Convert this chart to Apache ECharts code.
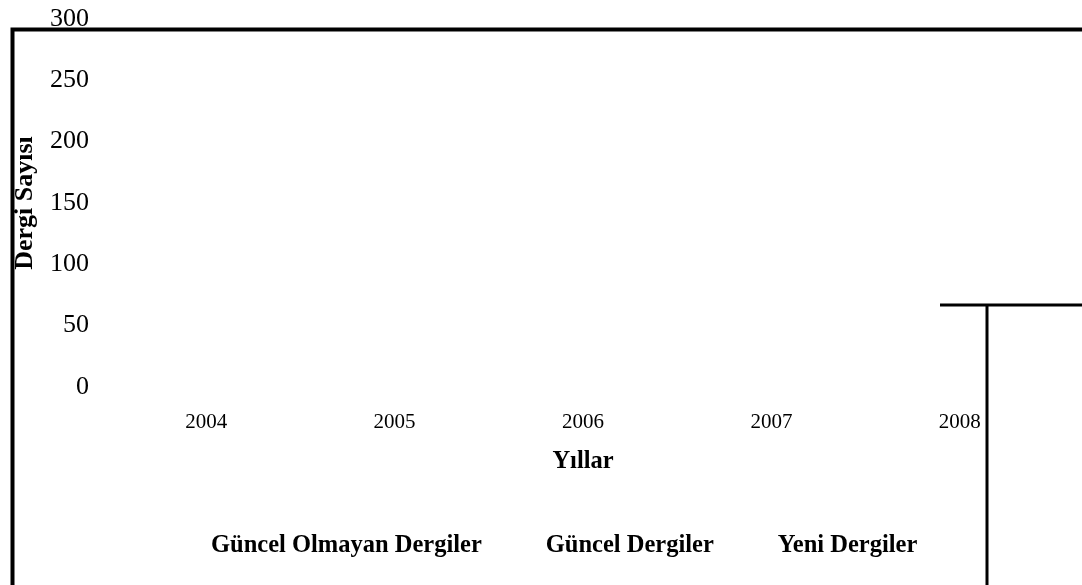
<!DOCTYPE html>
<html>
<head>
<meta charset="utf-8">
<title>Dergi Sayısı</title>
<script src="https://cdn.jsdelivr.net/npm/echarts@6/dist/echarts.min.js"></script>
<style>
  html, body { margin: 0; padding: 0; background: #fff; }
  #chart { width: 1082px; height: 585px; }
</style>
</head>
<body>
<div id="chart"></div>
<script>
// yıllar ve seriler (grafikte hiçbir değer görünmüyor)
const years = ['2004', '2005', '2006', '2007', '2008']
const seriesNames = ['Güncel Olmayan Dergiler', 'Güncel Dergiler', 'Yeni Dergiler']
const guncelOlmayan = [null, null, null, null, null]
const guncel = [null, null, null, null, null]
const yeni = [null, null, null, null, null]
const yTicks = [0, 50, 100, 150, 200, 250, 300]

const font = '"Liberation Serif", "Times New Roman", serif'
const chart = echarts.init(document.getElementById('chart'))

chart.setOption({
  animation: false,
  textStyle: { fontFamily: font, color: '#000' },
  grid: { left: 112, right: 28, top: 19, bottom: 198, containLabel: false },
  legend: {
    data: seriesNames,
    left: 201,
    top: 528,
    icon: 'none',
    itemWidth: 0,
    itemGap: 59,
    textStyle: { fontFamily: font, fontSize: 24.5, fontWeight: 'bold', color: '#000' }
  },
  xAxis: {
    type: 'category',
    data: years,
    name: 'Yıllar',
    nameLocation: 'middle',
    nameGap: 62,
    nameTextStyle: { fontFamily: font, fontSize: 24.5, fontWeight: 'bold', color: '#000' },
    axisLine: { show: false },
    axisTick: { show: false },
    axisLabel: { margin: 25, fontFamily: font, fontSize: 21, color: '#000' }
  },
  yAxis: {
    type: 'value',
    min: yTicks[0],
    max: yTicks[yTicks.length - 1],
    interval: 50,
    name: 'Dergi Sayısı',
    nameLocation: 'middle',
    nameGap: 74,
    nameTextStyle: { fontFamily: font, fontSize: 26, fontWeight: 'bold', color: '#000' },
    axisLine: { show: false },
    axisTick: { show: false },
    splitLine: { show: false },
    axisLabel: { margin: 23, fontFamily: font, fontSize: 26, color: '#000' }
  },
  series: [
    { name: seriesNames[0], type: 'bar', data: guncelOlmayan },
    { name: seriesNames[1], type: 'bar', data: guncel },
    { name: seriesNames[2], type: 'bar', data: yeni }
  ],
  // çerçeve çizgileri
  graphic: [
    {
      type: 'polyline',
      shape: { points: [[12.5, 585], [12.5, 29.5], [1082, 29.5]] },
      style: { stroke: '#000', lineWidth: 4, fill: null },
      z: 100
    },
    {
      type: 'polyline',
      shape: { points: [[940, 305], [1082, 305]] },
      style: { stroke: '#000', lineWidth: 3, fill: null },
      z: 100
    },
    {
      type: 'polyline',
      shape: { points: [[987, 305], [987, 585]] },
      style: { stroke: '#000', lineWidth: 3, fill: null },
      z: 100
    }
  ]
})
</script>
</body>
</html>
